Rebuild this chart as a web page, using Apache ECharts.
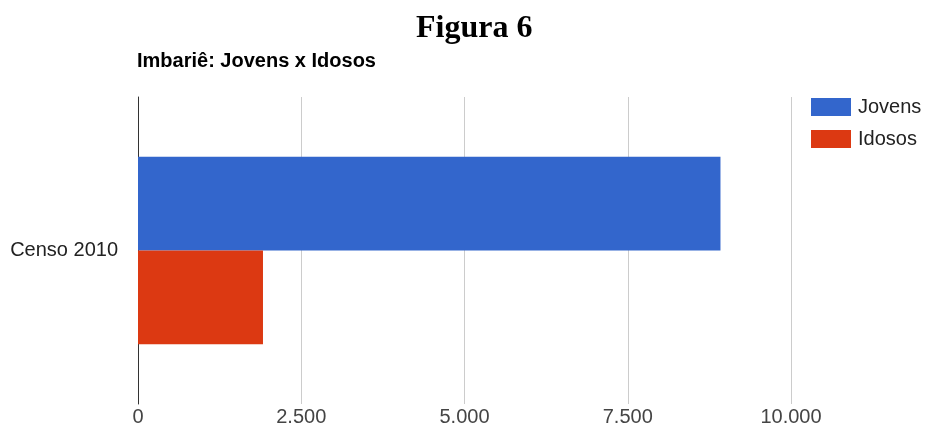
<!DOCTYPE html>
<html><head><meta charset="utf-8">
<script src="https://cdn.jsdelivr.net/npm/echarts@6/dist/echarts.min.js"></script>
<style>html,body{margin:0;padding:0;background:#fff}#c{width:925px;height:437px}</style>
</head><body><div id="c"></div>
<script>
const categories = ['Censo 2010'];
const seriesNames = ['Jovens', 'Idosos'];
const jovens = [8920];
const idosos = [1914];
const xTicks = [0, 2500, 5000, 7500, 10000];
const colors = ['#3366CC', '#DC3912'];

const chart = echarts.init(document.getElementById('c'));
chart.setOption({
  animation: false,
  title: [
    {text: 'Figura 6', left: 411, top: 8, textStyle: {fontFamily: 'Liberation Serif', fontWeight: 'bold', fontSize: 32, color: '#000'}},
    {text: 'Imbariê: Jovens x Idosos', left: 132, top: 46, textStyle: {fontFamily: 'Liberation Sans', fontWeight: 'bold', fontSize: 20, color: '#000'}}
  ],
  legend: {
    orient: 'vertical', left: 806, top: 92, itemWidth: 40, itemHeight: 18, itemGap: 12,
    icon: 'rect',
    textStyle: {fontFamily: 'Liberation Sans', fontSize: 20, color: '#222', padding: [0, 0, 0, 2]},
    data: seriesNames
  },
  grid: {left: 138, right: 134, top: 97, bottom: 33, containLabel: false},
  xAxis: {
    type: 'value', min: xTicks[0], max: xTicks[xTicks.length - 1], interval: 2500,
    axisLine: {show: false}, axisTick: {show: false},
    splitLine: {lineStyle: {color: '#cccccc', width: 1}},
    axisLabel: {margin: 3, fontFamily: 'Liberation Sans', fontSize: 20, color: '#444',
      formatter: v => v.toLocaleString('de-DE')}
  },
  yAxis: {
    type: 'category', data: categories,
    axisLine: {show: true, lineStyle: {color: '#333', width: 1}},
    axisTick: {show: false},
    axisLabel: {margin: 20, fontFamily: 'Liberation Sans', fontSize: 20, color: '#222'}
  },
  series: [
    {name: seriesNames[0], type: 'bar', data: jovens, itemStyle: {color: colors[0]}, barGap: '0%', barCategoryGap: '39%'},
    {name: seriesNames[1], type: 'bar', data: idosos, itemStyle: {color: colors[1]}, barGap: '0%', barCategoryGap: '39%'}
  ]
});
</script></body></html>
